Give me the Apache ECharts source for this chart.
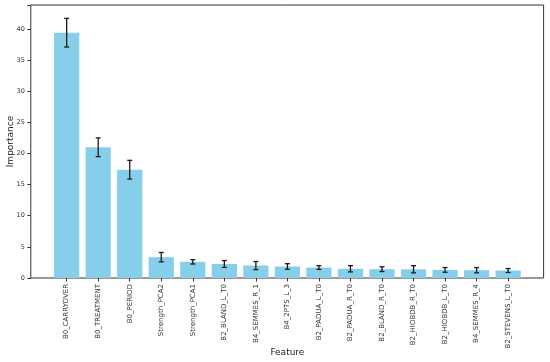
<!DOCTYPE html>
<html>
<head>
<meta charset="utf-8">
<script src="https://cdn.jsdelivr.net/npm/echarts@6/dist/echarts.min.js"></script>
<style>html,body{margin:0;padding:0;background:#fff}#c{width:550px;height:362px}</style>
</head>
<body>
<div id="c"></div>
<script>
const categories = ['B0_CARRYOVER','B0_TREATMENT','B0_PERIOD','Strength_PCA2','Strength_PCA1','B2_BLAND_L_T0','B4_SEMMES_R_1','B4_2PTS_L_3','B2_PADUA_L_T0','B2_PADUA_R_T0','B2_BLAND_R_T0','B2_HIOBDB_R_T0','B2_HIOBDB_L_T0','B4_SEMMES_R_4','B2_STEVENS_L_T0'];
const importance = [39.4, 21.0, 17.4, 3.35, 2.6, 2.25, 2.0, 1.85, 1.68, 1.48, 1.42, 1.4, 1.3, 1.25, 1.2];
const errors = [2.3, 1.5, 1.5, 0.75, 0.35, 0.55, 0.65, 0.45, 0.3, 0.5, 0.38, 0.58, 0.38, 0.42, 0.32];
const yTicks = [0, 5, 10, 15, 20, 25, 30, 35, 40];

const font = 'DejaVu Sans';
const yMax = 43.85;
const chart = echarts.init(document.getElementById('c'), null, {renderer: 'canvas'});
const errData = importance.map((v, i) => [i, v, errors[i]]);
chart.setOption({
  animation: false,
  grid: [
    {left: 30.8, right: 6.4, top: 5, bottom: 84, show: true, borderColor: '#333', borderWidth: 1, backgroundColor: 'transparent', containLabel: false, outerBoundsMode: 'none'},
    {left: 50.9, right: 26.1, top: 5, bottom: 84, containLabel: false, outerBoundsMode: 'none'}
  ],
  xAxis: [
    {gridIndex: 0, type: 'value', min: 0, max: 1, show: false},
    {gridIndex: 1, type: 'category', data: categories,
     axisLine: {show: false},
     axisTick: {show: true, alignWithLabel: true, length: 3.5, lineStyle: {color: '#333'}},
     axisLabel: {rotate: 90, fontSize: 7, color: '#333', fontFamily: font, margin: 6, interval: 0},
     name: 'Feature', nameLocation: 'middle', nameGap: 70, nameMoveOverlap: false,
     nameTextStyle: {fontSize: 9, color: '#222', fontFamily: font}}
  ],
  yAxis: [
    {gridIndex: 0, type: 'value', min: 0, max: yMax, interval: 5,
     axisLine: {show: false},
     axisTick: {show: true, length: 3.5, lineStyle: {color: '#333'}},
     axisLabel: {fontSize: 6.5, color: '#333', fontFamily: font, margin: 6,
       customValues: yTicks, formatter: v => String(v)},
     splitLine: {show: false},
     name: 'Importance', nameLocation: 'middle', nameGap: 16, nameMoveOverlap: false,
     nameTextStyle: {fontSize: 9, color: '#222', fontFamily: font}},
    {gridIndex: 1, type: 'value', min: 0, max: yMax, show: false, splitLine: {show: false}}
  ],
  series: [
    {type: 'bar', xAxisIndex: 1, yAxisIndex: 1, data: importance, barWidth: '80%',
     itemStyle: {color: '#87CEEB'}},
    {type: 'custom', xAxisIndex: 1, yAxisIndex: 1, data: errData, z: 10,
     renderItem: function (params, api) {
       const i = api.value(0), v = api.value(1), e = api.value(2);
       const top = api.coord([i, v + e]);
       const bot = api.coord([i, v - e]);
       const hw = 2.5;
       const style = {stroke: '#1a1a1a', lineWidth: 1.3};
       return {type: 'group', children: [
         {type: 'line', shape: {x1: top[0], y1: top[1], x2: bot[0], y2: bot[1]}, style: style},
         {type: 'line', shape: {x1: top[0]-hw, y1: top[1], x2: top[0]+hw, y2: top[1]}, style: style},
         {type: 'line', shape: {x1: bot[0]-hw, y1: bot[1], x2: bot[0]+hw, y2: bot[1]}, style: style}
       ]};
     }}
  ]
});
</script>
</body>
</html>
